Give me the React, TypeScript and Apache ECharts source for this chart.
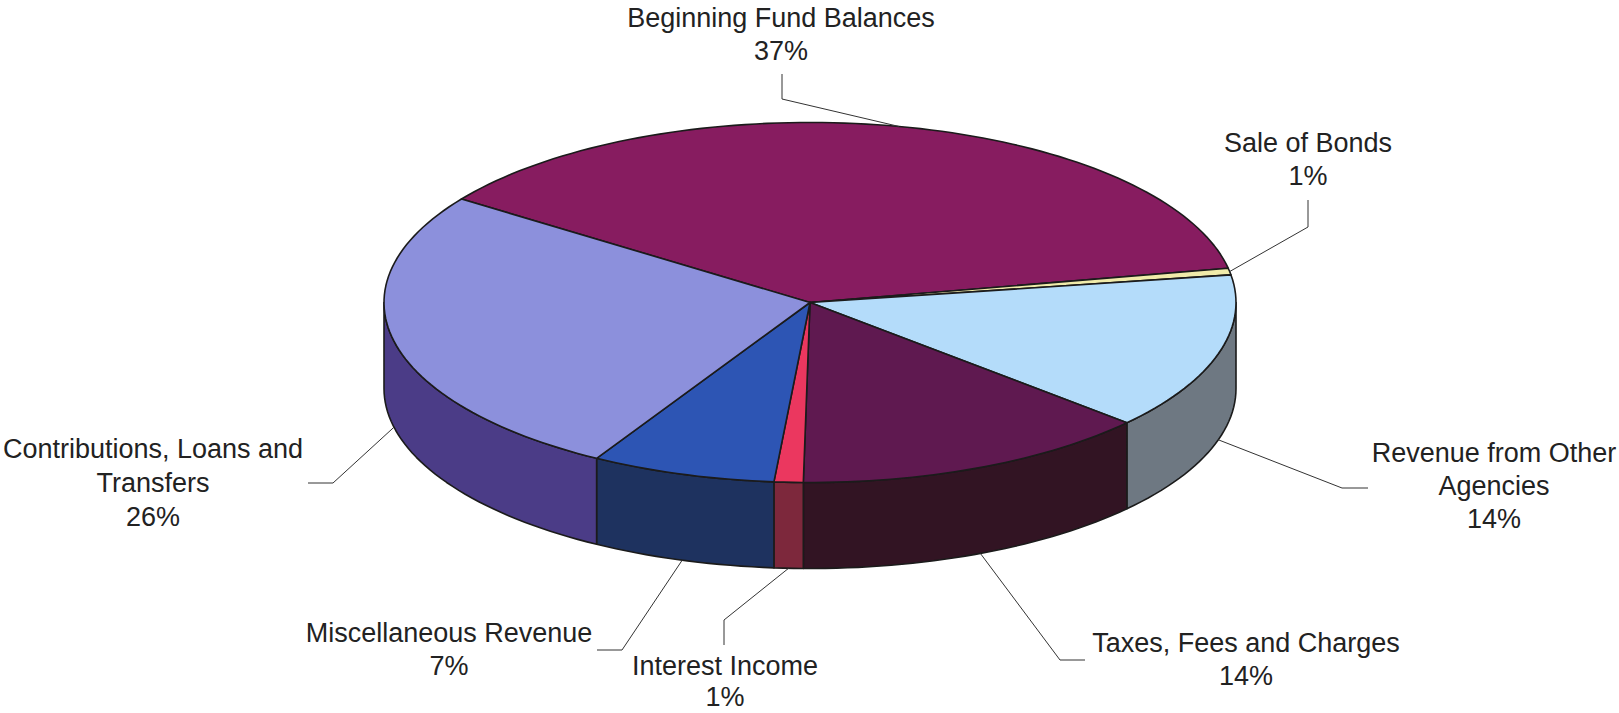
import React, { useEffect, useRef } from 'react';
import * as echarts from 'echarts';

// ---- data ----
const categories = [
  'Beginning Fund Balances',
  'Sale of Bonds',
  'Revenue from Other Agencies',
  'Taxes, Fees and Charges',
  'Interest Income',
  'Miscellaneous Revenue',
  'Contributions, Loans and Transfers',
];
const labelLines = [
  'Beginning Fund Balances',
  'Sale of Bonds',
  'Revenue from Other\nAgencies',
  'Taxes, Fees and Charges',
  'Interest Income',
  'Miscellaneous Revenue',
  'Contributions, Loans and\nTransfers',
];
const values = [37.2, 0.6, 14.1, 13.6, 1.1, 7.0, 26.4];

// ---- styles ----
const topColors = ['#871C60', '#F0EBAA', '#B4DCFA', '#5F1950', '#EB375F', '#2D55B4', '#8C90DC'];
const sideColors = ['#4A0E33', '#A09A60', '#6E7882', '#321423', '#7D283C', '#1E325F', '#4B3C87'];

// ---- layout (same order as the data) ----
const CX = 810;
const CY = 302.5;
const RX = 426;
const RY = 180;
const DEPTH = 86;
const START_DEG = -144.9; // screen angle (clockwise from 3 o'clock)
const labelPos = [
  [781, 1.5],
  [1308, 126.5],
  [1494, 436.5],
  [1246, 626.5],
  [725, 650],
  [449, 616.5],
  [153, 431.5],
];
const labelLineHeights = [33, 33, 33, 33, 31, 33, 34];
const leaderElbows = [
  [[782, 74], [782, 99]],
  [[1308, 200], [1308, 227]],
  [[1368, 488], [1342, 488]],
  [[1085, 660], [1060, 660]],
  [[724, 645], [724, 620]],
  [[597, 650], [622, 650]],
  [[308, 483], [333, 483]],
];
const anchorOnSide = [0, 0, 1, 1, 1, 1, 1];

const total = values.reduce((s, v) => s + v, 0);
const sliceData: number[][] = [];
{
  let acc = 0;
  values.forEach((v, i) => {
    const a1 = START_DEG + (acc / total) * 360;
    acc += v;
    const a2 = START_DEG + (acc / total) * 360;
    sliceData.push([a1, a2, i, v]);
  });
}

const rad = (d: number) => (d * Math.PI) / 180;
function arc(t1: number, t2: number, dy: number): number[][] {
  const pts: number[][] = [];
  const n = Math.max(2, Math.ceil(Math.abs(t2 - t1) / 1.5));
  for (let k = 0; k <= n; k++) {
    const t = rad(t1 + ((t2 - t1) * k) / n);
    pts.push([CX + RX * Math.cos(t), CY + RY * Math.sin(t) + dy]);
  }
  return pts;
}

const STROKE = '#1b1b1b';

export default function App() {
  const ref = useRef<HTMLDivElement>(null);
  useEffect(() => {
    document.body.style.margin = '0';
    document.body.style.overflow = 'hidden';
    const chart = echarts.init(ref.current!, null, { renderer: 'svg' });
    chart.setOption({
      animation: false,
      backgroundColor: '#ffffff',
      series: [
        {
          type: 'custom',
          name: 'pie',
          coordinateSystem: 'none',
          silent: true,
          z: 2,
          data: sliceData,
          renderItem: (params: any, api: any) => {
            const a1 = api.value(0);
            const a2 = api.value(1);
            const i = api.value(2);
            const children: any[] = [];
            const s1 = Math.max(a1, 0);
            const s2 = Math.min(a2, 180);
            if (s2 > s1) {
              const pts = arc(s1, s2, 0).concat(arc(s2, s1, DEPTH));
              children.push({
                type: 'polygon',
                shape: { points: pts },
                style: { fill: sideColors[i], stroke: STROKE, lineWidth: 1.6, lineJoin: 'round' },
              });
            }
            const top = [[CX, CY]].concat(arc(a1, a2, 0));
            children.push({
              type: 'polygon',
              shape: { points: top },
              style: { fill: topColors[i], stroke: STROKE, lineWidth: 1.6, lineJoin: 'round' },
            });
            return { type: 'group', children };
          },
        },
        {
          type: 'custom',
          name: 'labels',
          coordinateSystem: 'none',
          silent: true,
          z: 5,
          data: sliceData,
          renderItem: (params: any, api: any) => {
            const a1 = api.value(0);
            const a2 = api.value(1);
            const i = api.value(2);
            const v = api.value(3);
            const mid = rad((a1 + a2) / 2);
            const ax = CX + RX * Math.cos(mid);
            const ay = CY + RY * Math.sin(mid) + DEPTH * anchorOnSide[i];
            const pct = Math.round((v / total) * 100);
            const el = leaderElbows[i];
            return {
              type: 'group',
              children: [
                {
                  type: 'polyline',
                  shape: { points: [el[0], el[1], [ax, ay]] },
                  style: { stroke: '#333', lineWidth: 1, fill: null },
                },
                {
                  type: 'text',
                  style: {
                    text: labelLines[i] + '\n' + pct + '%',
                    x: labelPos[i][0],
                    y: labelPos[i][1],
                    align: 'center',
                    verticalAlign: 'top',
                    fontSize: 27,
                    fontFamily: '"Liberation Sans", Arial, sans-serif',
                    lineHeight: labelLineHeights[i],
                    fill: '#222',
                  },
                },
              ],
            };
          },
        },
      ],
    });
    return () => chart.dispose();
  }, []);
  return <div ref={ref} style={{ width: 1619, height: 713 }} title={categories.join(', ')} />;
}
